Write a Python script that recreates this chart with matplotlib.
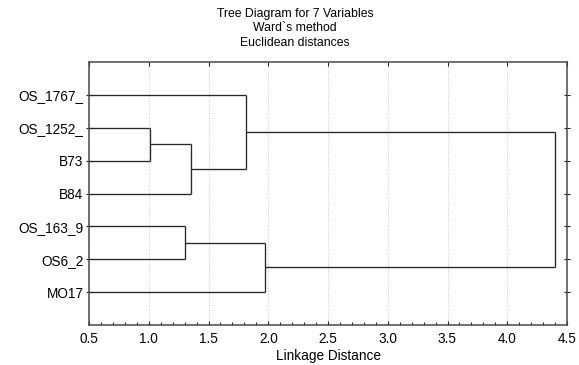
import matplotlib
matplotlib.use("Agg")
import matplotlib.pyplot as plt
from matplotlib.ticker import MultipleLocator

plt.rcParams["font.family"] = ["Liberation Sans", "DejaVu Sans"]

# leaves, top to bottom
labels = ["OS_1767_", "OS_1252_", "B73", "B84", "OS_163_9", "OS6_2", "MO17"]
# merges: (node a, node b, linkage distance); new nodes numbered from 7
merges = [
    (1, 2, 1.01),
    (4, 5, 1.30),
    (7, 3, 1.35),
    (0, 9, 1.81),
    (8, 6, 1.97),
    (10, 11, 4.40),
]
xticks = [0.5, 1.0, 1.5, 2.0, 2.5, 3.0, 3.5, 4.0, 4.5]

W, H = 579, 365
fig = plt.figure(figsize=(W / 100, H / 100), dpi=100)
ax = fig.add_axes([89 / W, 1 - 325 / H, 478 / W, 263 / H])

x0 = xticks[0]
pos = {i: (x0, i + 1) for i in range(len(labels))}
lc = "#262626"
for k, (a, b, d) in enumerate(merges):
    xa, ya = pos[a]
    xb, yb = pos[b]
    ax.plot([xa, d], [ya, ya], color=lc, lw=0.95, solid_capstyle="butt")
    ax.plot([xb, d], [yb, yb], color=lc, lw=0.95, solid_capstyle="butt")
    ax.plot([d, d], [ya, yb], color=lc, lw=0.95, solid_capstyle="butt")
    pos[len(labels) + k] = (d, (ya + yb) / 2)

ax.set_xlim(xticks[0], xticks[-1])
ax.set_ylim(len(labels) + 1, 0)
ax.set_xticks(xticks)
ax.set_xticklabels([f"{t:.1f}" for t in xticks])
ax.xaxis.set_minor_locator(MultipleLocator(0.1))
ax.set_yticks(range(1, len(labels) + 1))
ax.set_yticklabels(labels)

ax.grid(axis="x", which="major", color="#cccccc", ls=(0, (1, 1.5)), lw=0.7)
ax.set_axisbelow(True)
for s in ax.spines.values():
    s.set_color("#4a4a4a")
    s.set_linewidth(1.1)

ax.tick_params(axis="x", which="major", direction="in", length=3, width=0.8,
               top=True, labelsize=9.8, pad=5, color="#222222")
ax.tick_params(axis="x", which="minor", direction="in", length=2, width=0.7,
               top=False, color="#222222")
ax.tick_params(axis="y", which="major", direction="inout", length=4, width=0.8,
               right=True, labelsize=9.8, pad=2, color="#222222")

ax.set_xlabel("Linkage Distance", fontsize=9.8, labelpad=2)
fig.text(295 / W, 1 - 8 / H, "Tree Diagram for 7 Variables\nWard`s method\nEuclidean distances",
         ha="center", va="top", fontsize=8.8, linespacing=1.25)

fig.savefig("out.png", dpi=100)
